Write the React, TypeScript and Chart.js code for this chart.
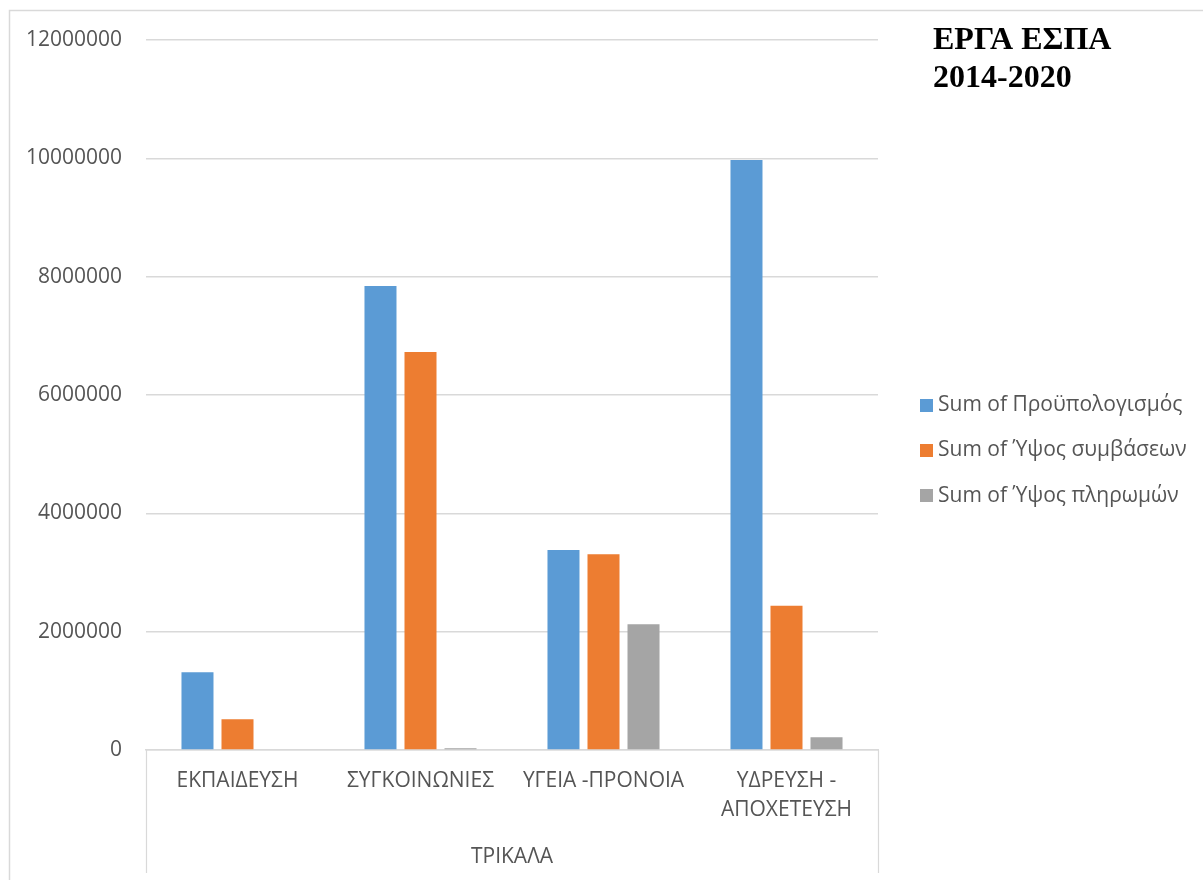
import React, { useEffect, useRef } from "react";
import { Chart, registerables } from "chart.js";

Chart.register(...registerables);

// ---- Data ----
const categories: string[][] = [
  ["ΕΚΠΑΙΔΕΥΣΗ"],
  ["ΣΥΓΚΟΙΝΩΝΙΕΣ"],
  ["ΥΓΕΙΑ -ΠΡΟΝΟΙΑ"],
  ["ΥΔΡΕΥΣΗ -", "ΑΠΟΧΕΤΕΥΣΗ"],
];
const groupLabel = "ΤΡΙΚΑΛΑ";
const seriesNames = [
  "Sum of Προϋπολογισμός",
  "Sum of Ύψος συμβάσεων",
  "Sum of Ύψος πληρωμών",
];
const budget = [1313000, 7842000, 3380000, 9971000];
const contracts = [519000, 6727000, 3307000, 2439000];
const payments = [0, 30000, 2124000, 215000];
const yMin = 0;
const yMax = 12000000;
const yStep = 2000000;
const titleLines = ["ΕΡΓΑ ΕΣΠΑ", "2014-2020"];
const seriesColors = ["#5B9BD5", "#ED7D31", "#A5A5A5"];

const FONT = "'Open Sans', 'Noto Sans', sans-serif";
const TEXT = "#555555";
const LINE = "#d9d9d9";

const decorations = {
  id: "decorations",
  beforeDraw(chart: any) {
    const { ctx, width, height } = chart;
    ctx.save();
    ctx.fillStyle = "#ffffff";
    ctx.fillRect(0, 0, width, height);
    ctx.restore();
  },
  afterDraw(chart: any) {
    const { ctx, chartArea } = chart;
    ctx.save();
    // outer frame
    ctx.strokeStyle = LINE;
    ctx.lineWidth = 1.5;
    ctx.strokeRect(9.5, 10.5, 1210, 900);
    // multi-level axis separators
    ctx.lineWidth = 1.2;
    ctx.beginPath();
    [chartArea.left, chartArea.right].forEach((x: number) => {
      const px = Math.round(x) + 0.5;
      ctx.moveTo(px, chartArea.bottom);
      ctx.lineTo(px, 873);
    });
    ctx.stroke();

    // title
    ctx.fillStyle = "#000000";
    ctx.font = "bold 32px 'Liberation Serif', 'Times New Roman', serif";
    ctx.textAlign = "left";
    ctx.textBaseline = "alphabetic";
    titleLines.forEach((t, i) => ctx.fillText(t, 933, 49 + i * 38));

    // legend
    ctx.font = `21px ${FONT}`;
    ctx.textBaseline = "middle";
    chart.data.datasets.forEach((ds: any, i: number) => {
      const cy = 405 + i * 45.3;
      ctx.fillStyle = ds.backgroundColor;
      ctx.fillRect(920, Math.round(cy - 6.5), 13, 13);
      ctx.fillStyle = TEXT;
      ctx.fillText(ds.label, 938, cy);
    });
    ctx.restore();
  },
};

export default function App() {
  const canvasRef = useRef<HTMLCanvasElement | null>(null);

  useEffect(() => {
    if (!canvasRef.current) return;
    const values = [budget, contracts, payments];
    const chart = new Chart(canvasRef.current, {
      type: "bar",
      data: {
        labels: categories,
        datasets: seriesNames.map((name, i) => ({
          label: name,
          data: values[i],
          backgroundColor: seriesColors[i],
          borderWidth: 0,
          categoryPercentage: 0.656,
          barPercentage: 0.8,
        })),
      },
      options: {
        responsive: false,
        animation: false,
        devicePixelRatio: 1,
        layout: { padding: { top: 40, right: 325, bottom: 0, left: 0 } },
        plugins: {
          legend: { display: false },
          title: { display: false },
          tooltip: { enabled: false },
        },
        scales: {
          x: {
            grid: { display: false, drawTicks: false },
            border: { display: true, color: LINE, width: 1.5 },
            ticks: {
              color: TEXT,
              font: { family: FONT, size: 21, lineHeight: 1.38 },
              padding: 17,
              maxRotation: 0,
              autoSkip: false,
            },
            title: {
              display: true,
              text: groupLabel,
              color: TEXT,
              font: { family: FONT, size: 21, lineHeight: 1.2 },
              padding: { top: 0, bottom: 10 },
            },
            afterFit(scale: any) {
              scale.height = 130;
            },
          },
          y: {
            min: yMin,
            max: yMax,
            grid: { color: LINE, lineWidth: 1.5, drawTicks: false },
            border: { display: false },
            ticks: {
              stepSize: yStep,
              color: TEXT,
              font: { family: FONT, size: 21 },
              padding: 24,
              callback: (v: any) => String(v),
            },
            afterFit(scale: any) {
              scale.width = 146;
            },
          },
        },
      },
      plugins: [decorations],
    });
    return () => chart.destroy();
  }, []);

  return (
    <div style={{ position: "fixed", left: 0, top: 0, width: 1203, height: 880 }}>
      <canvas ref={canvasRef} width={1203} height={880} />
    </div>
  );
}
